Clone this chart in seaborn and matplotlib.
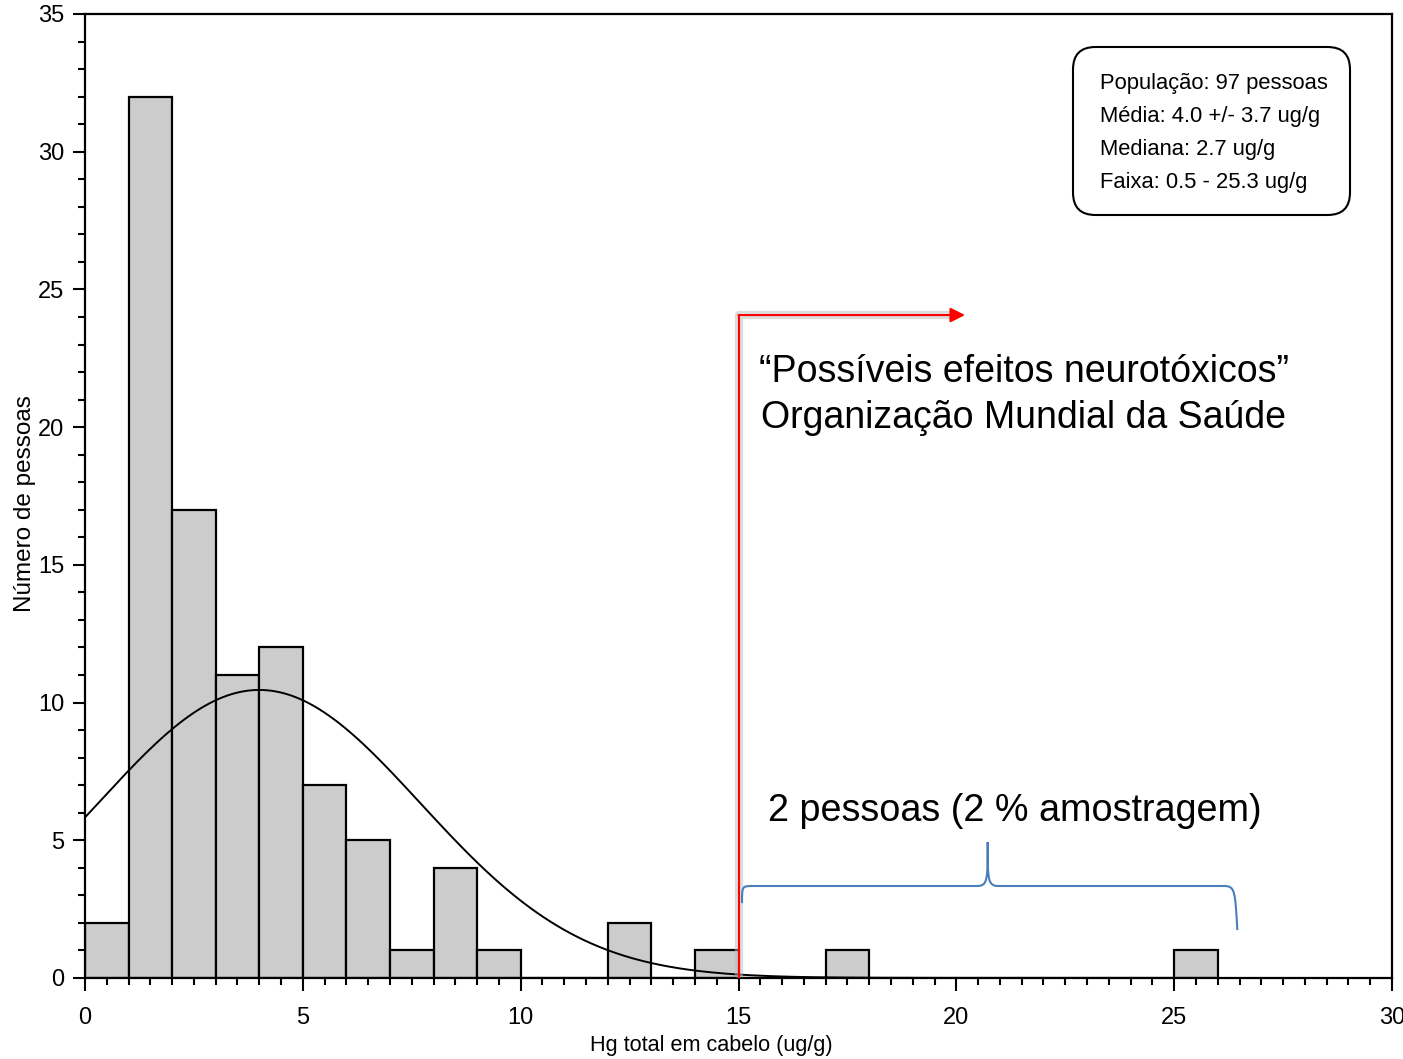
import numpy as np
import pandas as pd
import matplotlib
matplotlib.use("Agg")
import matplotlib.pyplot as plt
import seaborn as sns
from matplotlib.patches import FancyBboxPatch
from matplotlib.path import Path
from matplotlib.patches import PathPatch

# ---- data ----
bin_left = [0, 1, 2, 3, 4, 5, 6, 7, 8, 9, 12, 14, 17, 25]
counts = [2, 32, 17, 11, 12, 7, 5, 1, 4, 1, 2, 1, 1, 1]
n_people = 97
mean_hg = 4.0
sd_hg = 3.7
median_hg = 2.7
range_hg = (0.5, 25.3)
x_ticks = [0, 5, 10, 15, 20, 25, 30]
y_ticks = [0, 5, 10, 15, 20, 25, 30, 35]
who_limit = 15

sns.set_theme(style="ticks")
plt.rcParams["font.family"] = ["Liberation Sans", "DejaVu Sans"]
plt.rcParams["text.color"] = "black"
plt.rcParams["axes.labelcolor"] = "black"
plt.rcParams["xtick.labelcolor"] = "black"
plt.rcParams["ytick.labelcolor"] = "black"

fig = plt.figure(figsize=(14.03, 10.59), dpi=100)
W, H = 1403, 1059
ax = fig.add_axes([85 / W, 1 - 978 / H, (1392 - 85) / W, (978 - 14) / H])

df = pd.DataFrame({"mid": np.array(bin_left, dtype=float) + 0.5,
                   "n": np.array(counts, dtype=float)})
sns.histplot(data=df, x="mid", weights="n", binwidth=1, binrange=(0, 26), ax=ax,
             color="#cccccc", alpha=1, edgecolor="black", linewidth=1.6, zorder=2)

# fitted normal curve (from stated mean / sd / n, bin width 1)
xs = np.linspace(0, 30, 601)
ys = n_people * 1.0 / (sd_hg * np.sqrt(2 * np.pi)) * np.exp(-0.5 * ((xs - mean_hg) / sd_hg) ** 2)
sns.lineplot(x=xs, y=ys, ax=ax, color="black", linewidth=1.4, zorder=3)

ax.set_xlim(0, 30)
ax.set_ylim(0, 35)
ax.set_xticks(x_ticks)
ax.set_yticks(y_ticks)
ax.set_xticks(np.arange(0, 30.01, 0.5), minor=True)
ax.set_yticks(np.arange(0, 35.01, 1), minor=True)
ax.tick_params(axis="both", which="major", length=9, width=1.5, direction="out",
               labelsize=17, color="black", labelcolor="black")
ax.tick_params(axis="x", which="major", pad=12)
ax.tick_params(axis="y", which="major", pad=6)
ax.tick_params(axis="both", which="minor", length=5, width=1.5, direction="out", color="black")
for s in ax.spines.values():
    s.set_visible(True)
    s.set_color("black")
    s.set_linewidth(1.6)
ax.set_xlabel("Hg total em cabelo (ug/g)", fontsize=15.6, color="black")
ax.set_ylabel("Número de pessoas", fontsize=17.5, color="black")
ax.xaxis.set_label_coords((711 - 85) / 1307, (978 - 1045) / 964)
ax.yaxis.set_label_coords((25 - 85) / 1307, (978 - 503.5) / 964)
ax.xaxis.label.set_va("center")
ax.yaxis.label.set_va("center")
ax.set_facecolor("white")

# red WHO threshold line with soft shadow
top_y = 24.07
arrow_end = 20.2
ax.plot([who_limit, who_limit, arrow_end - 0.2], [0.15, top_y, top_y],
        color="#bbbbbb", linewidth=6, alpha=0.5, zorder=4, solid_capstyle="round")
ax.plot([who_limit, who_limit], [0, top_y], color="red", linewidth=1.5, zorder=5)
ax.annotate("", xy=(arrow_end, top_y), xytext=(who_limit, top_y),
            arrowprops=dict(arrowstyle="-|>", color="red", lw=1.5,
                            mutation_scale=22, shrinkA=0, shrinkB=0), zorder=5)

ax.text(21.55, 22.0, "\u201cPossíveis efeitos neurotóxicos\u201d", fontsize=27,
        ha="center", va="center", color="black")
ax.text(21.55, 20.35, "Organização Mundial da Saúde", fontsize=27,
        ha="center", va="center", color="black")
ax.text(21.35, 6.05, "2 pessoas (2 % amostragem)", fontsize=27.2,
        ha="center", va="center", color="black")

# curly brace over the two highest values
xl, xc, xr = 15.08, 20.72, 26.4
yb, yl, yr, yt = 3.34, 2.72, 1.74, 4.94
verts = [(xl, yl), (xl, yb), (xl, yb), (xl + 0.25, yb),
         (xc - 0.25, yb),
         (xc, yb), (xc, yb + 0.2), (xc, yt),
         (xc, yb + 0.2), (xc, yb), (xc + 0.25, yb),
         (xr - 0.25, yb),
         (xr, yb), (xr, yb - 0.2), (xr + 0.05, yr)]
codes = [Path.MOVETO, Path.CURVE4, Path.CURVE4, Path.CURVE4,
         Path.LINETO,
         Path.CURVE4, Path.CURVE4, Path.CURVE4,
         Path.CURVE4, Path.CURVE4, Path.CURVE4,
         Path.LINETO,
         Path.CURVE4, Path.CURVE4, Path.CURVE4]
ax.add_patch(PathPatch(Path(verts, codes), facecolor="none", edgecolor="#4a7ebb",
                       linewidth=1.5, zorder=6))

# statistics box
bx0, bx1, by0, by1 = 1073, 1350, 47, 215
box = FancyBboxPatch((bx0 / W, 1 - by1 / H), (bx1 - bx0) / W, (by1 - by0) / H,
                     boxstyle="round,pad=0,rounding_size=0.016", transform=fig.transFigure,
                     facecolor="white", edgecolor="black", linewidth=1.5,
                     mutation_aspect=W / H)
fig.add_artist(box)
lines = [f"População: {n_people} pessoas",
         f"Média: {mean_hg:.1f} +/- {sd_hg:.1f} ug/g",
         f"Mediana: {median_hg:.1f} ug/g",
         f"Faixa: {range_hg[0]:.1f} - {range_hg[1]:.1f} ug/g"]
for i, t in enumerate(lines):
    fig.text(1100 / W, 1 - (83 + 33.2 * i) / H, t, fontsize=15.8, ha="left", va="center",
             color="black")

fig.savefig("out.png", dpi=100, facecolor="white")
